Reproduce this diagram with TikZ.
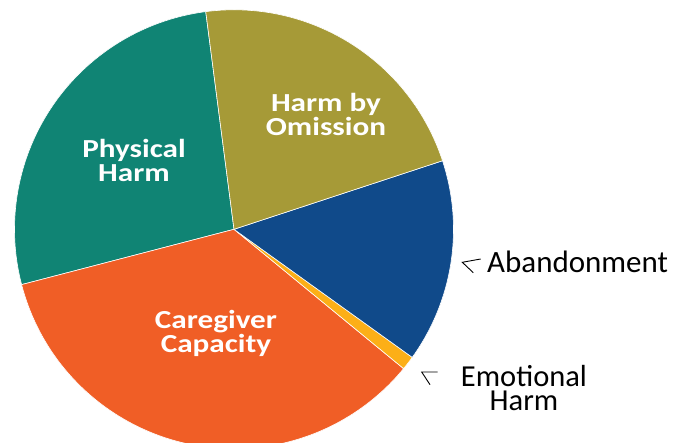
\documentclass[tikz,border=0pt]{standalone}
\usepackage{fontspec}
\setmainfont{Carlito}
\newfontfamily\labfont[FakeStretch=1.2]{Carlito Bold}
\definecolor{cPhys}{HTML}{108474}
\definecolor{cOmis}{HTML}{A69A37}
\definecolor{cAban}{HTML}{104A8A}
\definecolor{cCare}{HTML}{F05E26}
\definecolor{cEmot}{HTML}{FCAF17}
\tikzset{
  slice/.style={draw=white, line width=0.6pt},
  inlabel/.style={text=white, align=center, inner sep=0pt, font=\labfont\fontsize{26pt}{24pt}\selectfont},
  outlabel/.style={text=black, align=center, inner sep=0pt, font=\fontsize{31pt}{23pt}\selectfont},
  marker/.style={draw=black, line width=0.9pt}
}
\begin{document}
\begin{tikzpicture}[x=1pt,y=1pt]
\useasboundingbox (0,0) rectangle (688,443);
\fill[white] (0,0) rectangle (688,443);
\coordinate (c) at (234,213.7);
\def\R{219.5pt}
\fill[cPhys,slice] (c) -- ++(97.4:\R) arc[start angle=97.4, end angle=194.6, radius=\R] -- cycle;
\fill[cCare,slice] (c) -- ++(194.6:\R) arc[start angle=194.6, end angle=320.6, radius=\R] -- cycle;
\fill[cEmot,slice] (c) -- ++(320.6:\R) arc[start angle=320.6, end angle=324.3, radius=\R] -- cycle;
\fill[cAban,slice] (c) -- ++(324.3:\R) arc[start angle=324.3, end angle=378.2, radius=\R] -- cycle;
\fill[cOmis,slice] (c) -- ++(18.2:\R) arc[start angle=18.2, end angle=97.4, radius=\R] -- cycle;
\node[inlabel] (phys) at (134,283) {Physical\\Harm};
\node[inlabel] (omis) at (326,328.4) {Harm by\\Omission};
\node[inlabel] (care) at (216,110) {Caregiver\\Capacity};
\node[outlabel, anchor=base west] (aban) at (487,170.3) {Abandonment};
\node[outlabel, font=\fontsize{30.5pt}{24.5pt}\selectfont] (emot) at (524,55) {Emotional\\Harm};
\coordinate (am1) at (480.7,184);
\coordinate (am2) at (462.3,180.7);
\coordinate (am3) at (473.3,170.3);
\draw[marker] (am1) -- (am2) -- (am3);
\coordinate (em1) at (437.7,71);
\coordinate (em2) at (421.7,71);
\coordinate (em3) at (430,58.3);
\draw[marker] (em1) -- (em2) -- (em3);
\end{tikzpicture}
\end{document}
